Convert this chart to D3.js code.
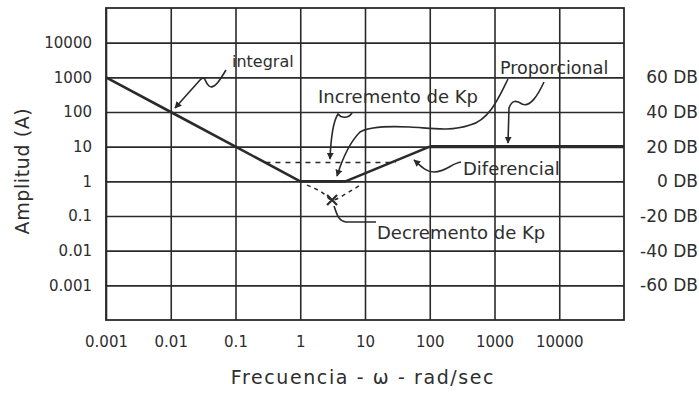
<!DOCTYPE html>
<html>
<head>
<meta charset="utf-8">
<script src="https://cdn.jsdelivr.net/npm/d3@7"></script>
<style>
  body { margin: 0; background: #fff; }
  text { font-family: "DejaVu Sans", sans-serif; fill: #2e2e2e; }
</style>
</head>
<body>
<svg id="plot" width="699" height="394"></svg>
<script>
// tick values and labels
var freqTicks = [0.001, 0.01, 0.1, 1, 10, 100, 1000, 10000];
var freqLabels = ["0.001", "0.01", "0.1", "1", "10", "100", "1000", "10000"];
var ampTicks = [0.001, 0.01, 0.1, 1, 10, 100, 1000, 10000];
var ampLabels = ["0.001", "0.01", "0.1", "1", "10", "100", "1000", "10000"];
var dbTicks = [1000, 100, 10, 1, 0.1, 0.01, 0.001];
var dbLabels = ["60 DB", "40 DB", "20 DB", "0 DB", "-20 DB", "-40 DB", "-60 DB"];

// main response (integral slope, bottom, differential rise)
var mainFreq = [0.001, 0.01, 0.1, 1, 5, 100];
var mainAmp = [1000, 100, 10, 1, 1, 10];
// proportional plateau
var propFreq = [100, 100000];
var propAmp = [10, 10];
// increase / decrease of Kp
var incFreq = [0.29, 30];
var incAmp = [3.5, 3.5];
var decFreq = [1.27, 2.24, 3.1, 5.3, 8.4];
var decAmp = [0.78, 0.46, 0.29, 0.46, 0.78];

var svg = d3.select('#plot');
// plot box (note: "top" is reserved on window)
var padLeft = 106, padRight = 624, padTop = 8, padBottom = 320;

var x = d3.scaleLog().domain([0.001, 100000]).range([padLeft, padRight]);
var y = d3.scaleLog().domain([0.0001, 100000]).range([padBottom, padTop]);

var ink = '#2a2a2a';

// arrow marker
svg.append('defs').append('marker')
  .attr('id', 'arrow')
  .attr('viewBox', '0 0 10 10')
  .attr('refX', 9).attr('refY', 5)
  .attr('markerWidth', 7).attr('markerHeight', 7)
  .attr('markerUnits', 'userSpaceOnUse')
  .attr('orient', 'auto')
  .append('path')
  .attr('d', 'M0,0 L10,5 L0,10 z')
  .attr('fill', ink);

// grid via axes
var yAxis = d3.axisLeft(y)
  .tickValues(ampTicks)
  .tickSize(-(padRight - padLeft))
  .tickPadding(14)
  .tickFormat(function (d, i) { return ampLabels[i]; });
var gy = svg.append('g')
  .attr('transform', 'translate(' + padLeft + ',0)')
  .call(yAxis);

var xAxis = d3.axisBottom(x)
  .tickValues(freqTicks)
  .tickSize(-(padBottom - padTop))
  .tickPadding(16)
  .tickFormat(function (d, i) { return freqLabels[i]; });
var gx = svg.append('g')
  .attr('transform', 'translate(0,' + padBottom + ')')
  .call(xAxis);

[gx, gy].forEach(function (g) {
  g.select('.domain').remove();
  g.selectAll('line').attr('stroke', ink).attr('stroke-width', 1.6);
  g.selectAll('text')
    .style('font-family', '"DejaVu Sans", sans-serif')
    .style('font-size', '15px')
    .attr('fill', '#333');
});

// frame
svg.append('rect')
  .attr('x', padLeft).attr('y', padTop)
  .attr('width', padRight - padLeft).attr('height', padBottom - padTop)
  .attr('fill', 'none').attr('stroke', ink).attr('stroke-width', 1.8);

// dB labels on the right
svg.append('g').selectAll('text')
  .data(dbTicks)
  .enter().append('text')
  .attr('x', 698)
  .attr('y', function (d) { return y(d); })
  .attr('dy', '0.36em')
  .attr('text-anchor', 'end')
  .style('font-size', '17px')
  .text(function (d, i) { return dbLabels[i]; });

// curves
function pts(fs, as) { return fs.map(function (f, i) { return [f, as[i]]; }); }
var line = d3.line()
  .x(function (d) { return x(d[0]); })
  .y(function (d) { return y(d[1]); });

svg.append('path')
  .attr('d', line.curve(d3.curveLinear)(pts(mainFreq, mainAmp)))
  .attr('fill', 'none').attr('stroke', ink).attr('stroke-width', 2.6)
  .attr('stroke-linejoin', 'round');

svg.append('path')
  .attr('d', line.curve(d3.curveLinear)(pts(propFreq, propAmp)))
  .attr('fill', 'none').attr('stroke', ink).attr('stroke-width', 3.4);

svg.append('path')
  .attr('d', line.curve(d3.curveLinear)(pts(incFreq, incAmp)))
  .attr('fill', 'none').attr('stroke', ink).attr('stroke-width', 1.5)
  .attr('stroke-dasharray', '5,5');

svg.append('path')
  .attr('d', line.curve(d3.curveMonotoneX)(pts(decFreq, decAmp)))
  .attr('fill', 'none').attr('stroke', ink).attr('stroke-width', 1.5)
  .attr('stroke-dasharray', '4,4');

// X mark at the lowered minimum
var xm = [x(decFreq[2]), y(decAmp[2])];
svg.append('path')
  .attr('d', 'M' + (xm[0] - 5) + ',' + (xm[1] - 5) + 'L' + (xm[0] + 5) + ',' + (xm[1] + 5) +
    'M' + (xm[0] + 5) + ',' + (xm[1] - 5) + 'L' + (xm[0] - 5) + ',' + (xm[1] + 5))
  .attr('stroke', ink).attr('stroke-width', 2.2);

// hand drawn leaders
var leaders = [
  { d: 'M226,70 C220,80 214,90 209,86 C204,82 206,74 200,80 L175,108', arrow: true },
  { d: 'M352,113 C348,119 341,118 338,114 C334,120 331,135 330,159', arrow: true },
  { d: 'M508,79 C500,95 490,120 470,125 C450,132 430,128 410,127 C390,126 370,126 360,132 C350,142 342,160 337,176', arrow: true },
  { d: 'M544,82 C538,95 530,108 522,104 C516,100 512,100 509,108 L508,143', arrow: true },
  { d: 'M461,162 C452,163 446,172 434,172 C426,172 421,166 414,160', arrow: true },
  { d: 'M334,206 C337,214 338,221 346,222 L376,222', arrow: false }
];
svg.append('g').selectAll('path')
  .data(leaders)
  .enter().append('path')
  .attr('d', function (d) { return d.d; })
  .attr('fill', 'none')
  .attr('stroke', ink)
  .attr('stroke-width', 1.6)
  .attr('marker-end', function (d) { return d.arrow ? 'url(#arrow)' : null; });

// annotation texts
var notes = [
  { t: 'integral', x: 232, y: 67, s: 16 },
  { t: 'Incremento de Kp', x: 318, y: 103, s: 18 },
  { t: 'Proporcional', x: 500, y: 74, s: 17.5 },
  { t: 'Diferencial', x: 463, y: 175, s: 18 },
  { t: 'Decremento de Kp', x: 377, y: 239, s: 18 }
];
svg.append('g').selectAll('text')
  .data(notes)
  .enter().append('text')
  .attr('x', function (d) { return d.x; })
  .attr('y', function (d) { return d.y; })
  .style('font-size', function (d) { return d.s + 'px'; })
  .text(function (d) { return d.t; });

// axis titles
svg.append('text')
  .attr('x', 363).attr('y', 384)
  .attr('text-anchor', 'middle')
  .style('font-size', '19px')
  .style('letter-spacing', '1.6px')
  .text('Frecuencia - ω - rad/sec');

svg.append('text')
  .attr('transform', 'translate(29,171) rotate(-90)')
  .attr('text-anchor', 'middle')
  .style('font-size', '19px')
  .style('letter-spacing', '0.6px')
  .text('Amplitud (A)');
</script>
</body>
</html>
